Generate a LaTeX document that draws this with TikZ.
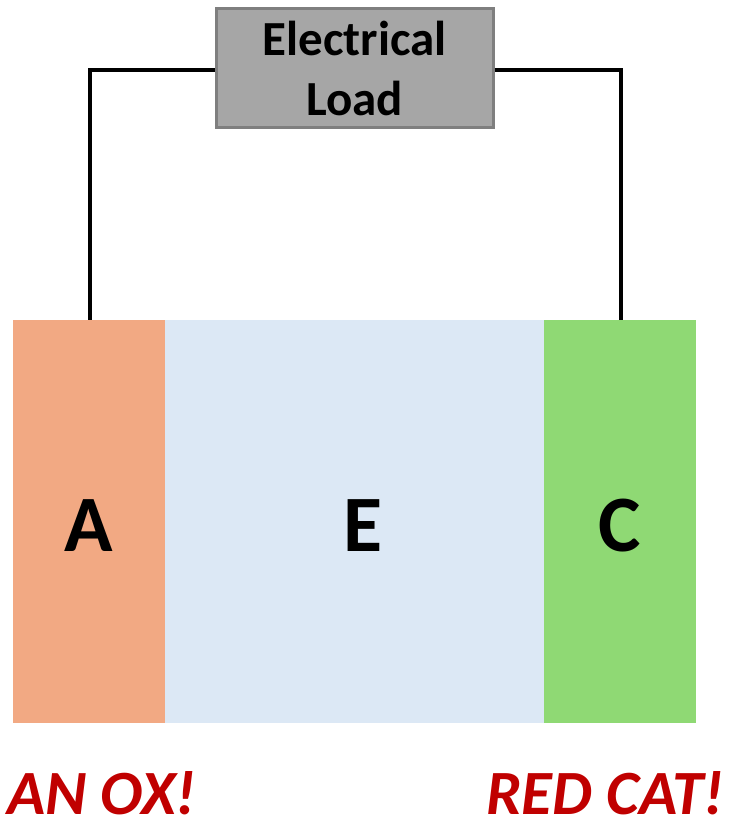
\documentclass[tikz,border=0pt]{standalone}
\usepackage{fontspec}
\setmainfont{Carlito}
\definecolor{anodec}{HTML}{F2A983}
\definecolor{elecc}{HTML}{DCE8F5}
\definecolor{cathc}{HTML}{8FD974}
\definecolor{loadfill}{HTML}{A6A6A6}
\definecolor{loadedge}{HTML}{7F7F7F}
\definecolor{redtxt}{HTML}{C00000}
\begin{document}
\begin{tikzpicture}[x=1bp,y=-1bp,
  region/.style={draw=none,minimum height=403bp,inner sep=0pt,anchor=north west},
  biglabel/.style={font=\fontsize{80bp}{96bp}\selectfont\bfseries,text=black},
  redlabel/.style={font=\fontsize{63bp}{72bp}\selectfont\bfseries\itshape,text=redtxt,inner sep=0pt,text depth=0pt},
  wire/.style={draw=black,line width=4.5bp}]
\useasboundingbox (0,0) rectangle (729,822);
\node[region,fill=anodec,minimum width=152bp] (anode) at (13,320) {};
\node[region,fill=elecc,minimum width=379bp] (elec) at (165,320) {};
\node[region,fill=cathc,minimum width=152bp] (cath) at (544,320) {};
\node[biglabel] (A) at (89,526) {A};
\node[biglabel] (E) at (363,526) {E};
\node[biglabel] (C) at (620,526) {C};
\coordinate (lc) at (90,70);
\coordinate (rc) at (621,70);
\node[draw=loadedge,line width=3bp,fill=loadfill,minimum width=277bp,minimum height=118bp,
  align=center,font=\fontsize{49bp}{60bp}\selectfont\bfseries,inner sep=0pt] (load) at (354.5,68) {Electrical\\Load};
\draw[wire] (load.west |- lc) -- (lc) -- (lc |- anode.north);
\draw[wire] (load.east |- rc) -- (rc) -- (rc |- cath.north);
\node[redlabel,anchor=base west] (ox) at (7,814) {AN OX!};
\node[redlabel,anchor=base east] (cat) at (724,814) {RED CAT!};
\end{tikzpicture}
\end{document}
